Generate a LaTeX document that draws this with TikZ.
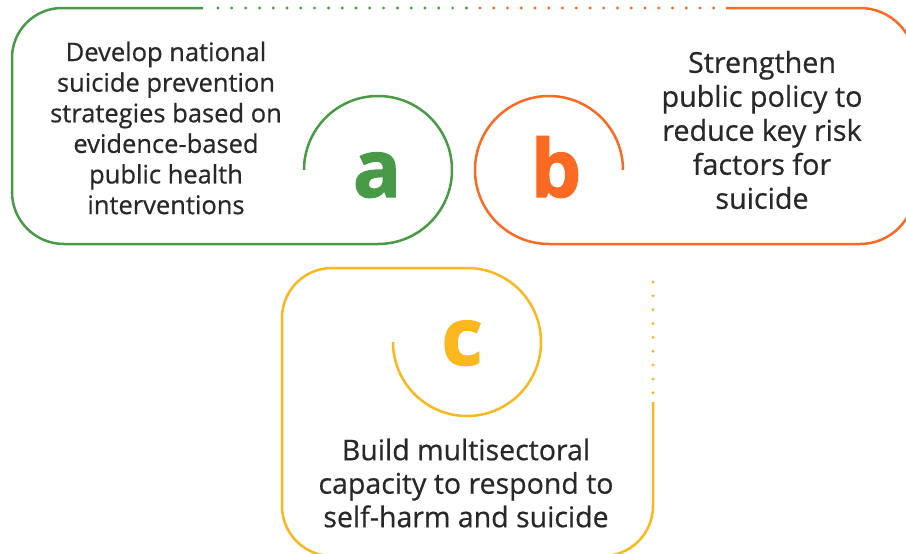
\documentclass[tikz,border=0pt]{standalone}
\usepackage{fontspec}
\setmainfont{Open Sans}[UprightFeatures={FakeBold=0.6},BoldFeatures={FakeBold=1.5}]
\definecolor{cgreen}{RGB}{72,154,71}
\definecolor{corange}{RGB}{250,106,35}
\definecolor{cyellow}{RGB}{250,183,30}
\definecolor{ctext}{RGB}{40,40,40}
\begin{document}
\begin{tikzpicture}[x=1pt,y=-1pt,
  outline/.style={line width=2.5pt},
  bodytext/.style={align=center,text=ctext,inner sep=0pt},
  bigletter/.style={font=\fontsize{80}{80}\selectfont\bfseries,inner sep=0pt,anchor=base}]
\useasboundingbox (0,0) rectangle (906,554);
\begin{scope}
\clip (0,0) rectangle (906,554);
% green shape (a)
\draw[outline,cgreen] (203,8) -- (62,8) arc[start angle=-90,end angle=-180,radius=50]
  -- (12,192) arc[start angle=180,end angle=90,radius=52] -- (378,244)
  arc[start angle=90,end angle=-180,radius=74];
\foreach \i in {0,...,18} \fill[cgreen] (218+13.8*\i,8) circle[radius=1.6pt];
% orange shape (b)
\draw[outline,corange] (726,8) -- (860,8) arc[start angle=-90,end angle=0,radius=55]
  -- (915,189) arc[start angle=0,end angle=90,radius=55] -- (549,244)
  arc[start angle=90,end angle=360,radius=74];
\foreach \i in {0,...,17} \fill[corange] (480+13.75*\i,8) circle[radius=1.6pt];
% yellow shape (c)
\draw[outline,cyellow] (653,402) -- (653,506) arc[start angle=0,end angle=90,radius=50]
  -- (332,556) arc[start angle=90,end angle=180,radius=50]
  -- (282,318) arc[start angle=180,end angle=270,radius=50] -- (467,268)
  arc[start angle=-90,end angle=180,radius=74];
\foreach \i in {0,...,8} \fill[cyellow] (653,282+13.85*\i) circle[radius=1.6pt];
\end{scope}
% texts
\node[bodytext,font=\fontsize{25.5}{30.6}\selectfont] (ta) at (166,128)
  {Develop national\\suicide prevention\\strategies based on\\evidence-based\\public health\\interventions};
\node[bodytext,font=\fontsize{28.7}{34}\selectfont] (tb) at (762,130)
  {Strengthen\\public policy to\\reduce key risk\\factors for\\suicide};
\node[bodytext,font=\fontsize{28.5}{33.5}\selectfont] (tc) at (466,483)
  {Build multisectoral\\capacity to respond to\\self-harm and suicide};
\node[bigletter,text=cgreen] (la) at (377,197) {a};
\node[bigletter,text=corange] (lb) at (556,197) {b};
\node[bigletter,text=cyellow] (lc) at (462,365) {c};
\end{tikzpicture}
\end{document}
